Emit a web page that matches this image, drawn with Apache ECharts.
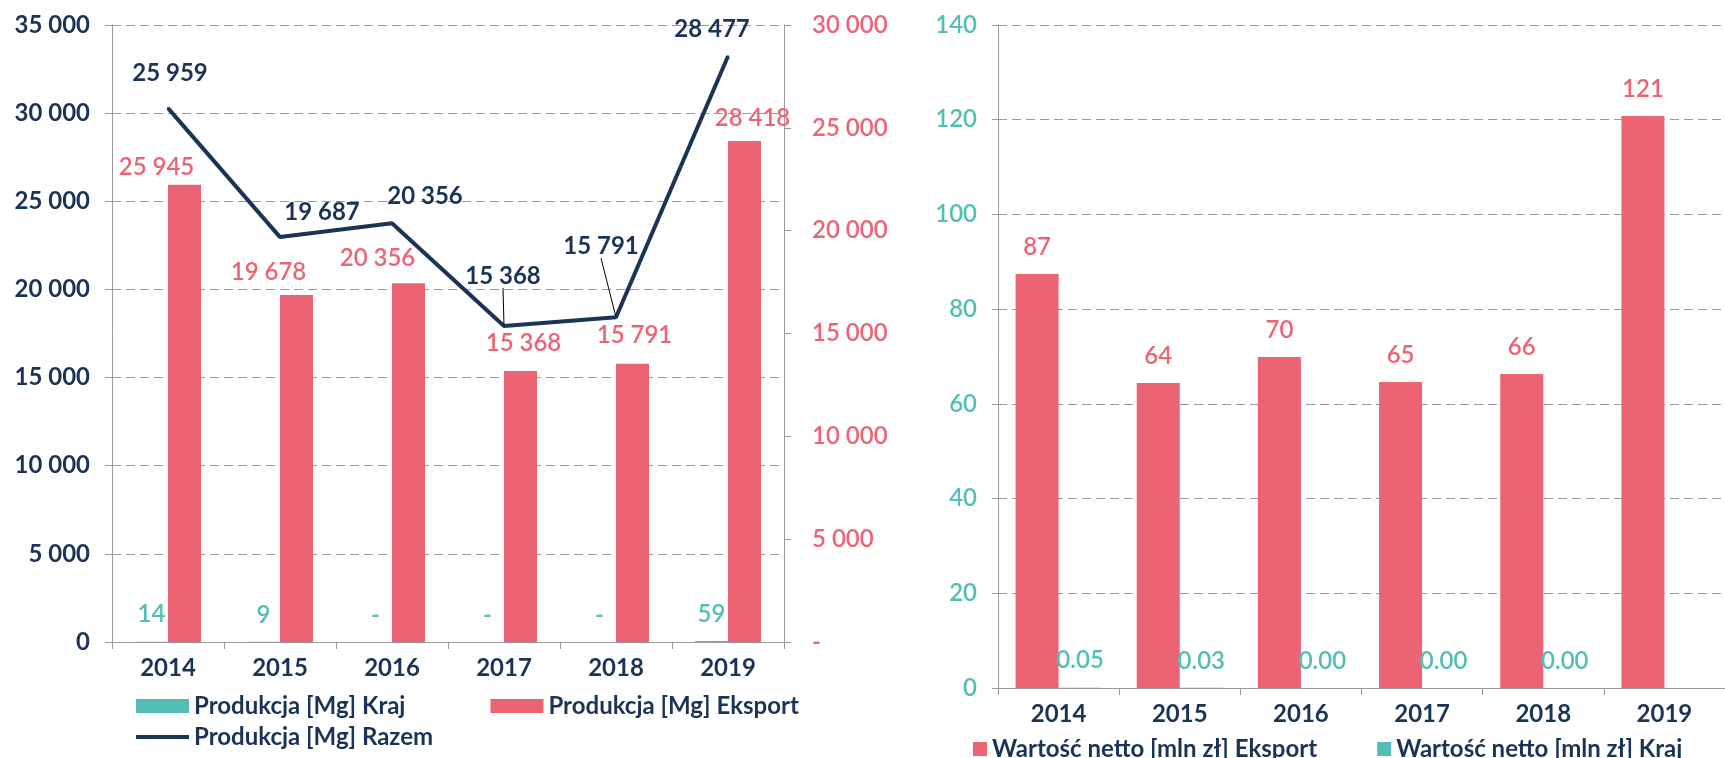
<!DOCTYPE html>
<html><head><meta charset="utf-8">
<script src="https://cdn.jsdelivr.net/npm/echarts@6/dist/echarts.min.js"></script>
<style>html,body{margin:0;padding:0;background:#fff}#c{width:1725px;height:758px}</style>
</head><body><div id="c"></div>
<script>
// ---- data ----
const years = ['2014', '2015', '2016', '2017', '2018', '2019'];
const prodKraj = [14, 9, 0, 0, 0, 59];
const prodEksport = [25945, 19678, 20356, 15368, 15791, 28418];
const prodRazem = [25959, 19687, 20356, 15368, 15791, 28477];
const wartEksport = [87.4, 64.4, 69.9, 64.6, 66.3, 120.8];
const wartKraj = [0.05, 0.03, 0.00, 0.00, 0.00, null];
const leftAxisScale = {min: 0, max: 35000, interval: 5000};
const rightAxisScale = {min: 0, max: 30000, interval: 5000};
const valueAxisScale = {min: 0, max: 140, interval: 20};
const seriesNames = {
  kraj: 'Produkcja [Mg] Kraj',
  eksport: 'Produkcja [Mg] Eksport',
  razem: 'Produkcja [Mg] Razem',
  wEksport: 'Wartość netto [mln zł] Eksport',
  wKraj: 'Wartość netto [mln zł] Kraj'
};

// ---- styles ----
const NAVY = '#1b3456', RED = '#ec6474', TEAL = '#52beb4', GRID = '#9a9a9a';
const FONT = 'Lato';
const FS = 24;
const MID = 600;
const eksportLabelShift = [[-28, 0], [-28, -6], [-31, -8], [3, -11], [2, -11], [8, -6]];
const razemLabelShift = [[2, -17], [42, -7], [33, -9], [-1, -32], [-15, -53], [-16, -9]];
const razemLeader = [false, false, false, true, true, false];

const fmt = v => String(Math.round(v)).replace(/\B(?=(\d{3})+(?!\d))/g, ' ');

const chart = echarts.init(document.getElementById('c'));
const dash = {color: GRID, type: [9, 5], width: 1};
const catAxis = (gi) => ({
  type: 'category', gridIndex: gi, data: years,
  axisLine: {show: true, lineStyle: {color: GRID, width: 1}},
  axisTick: {show: true, length: 7, lineStyle: {color: GRID}},
  axisLabel: {color: NAVY, fontFamily: FONT, fontWeight: 'bold', fontSize: FS, margin: 14}
});

chart.setOption({
  animation: false,
  textStyle: {fontFamily: FONT},
  grid: [
    {left: 112, right: 941, top: 25, bottom: 116},
    {left: 998, right: -11, top: 25, bottom: 70}
  ],
  legend: [
    {left: 136, top: 694, padding: 0, itemWidth: 53, itemHeight: 14, itemGap: 85, icon: 'rect',
     data: [seriesNames.kraj, seriesNames.eksport],
     textStyle: {color: NAVY, fontFamily: FONT, fontWeight: 'bold', fontSize: FS}},
    {left: 136, top: 725, padding: 0, itemWidth: 53, itemHeight: 4, icon: 'rect',
     data: [seriesNames.razem],
     textStyle: {color: NAVY, fontFamily: FONT, fontWeight: 'bold', fontSize: FS}},
    {left: 973, top: 737, padding: 0, itemWidth: 14, itemHeight: 14, itemGap: 60, icon: 'rect',
     data: [seriesNames.wEksport, seriesNames.wKraj],
     textStyle: {color: NAVY, fontFamily: FONT, fontWeight: 'bold', fontSize: FS}}
  ],
  xAxis: [catAxis(0), catAxis(1)],
  yAxis: [
    Object.assign({type: 'value', gridIndex: 0, position: 'left',
      axisLine: {show: true, lineStyle: {color: GRID}},
      axisTick: {show: true, length: 7, lineStyle: {color: GRID}},
      splitLine: {show: true, lineStyle: dash},
      axisLabel: {color: NAVY, fontFamily: FONT, fontWeight: 'bold', fontSize: FS, margin: 22, formatter: v => fmt(v)}
    }, leftAxisScale),
    Object.assign({type: 'value', gridIndex: 0, position: 'right',
      axisLine: {show: true, lineStyle: {color: GRID}},
      axisTick: {show: true, length: 7, lineStyle: {color: GRID}},
      splitLine: {show: false},
      axisLabel: {color: RED, fontFamily: FONT, fontWeight: MID, fontSize: FS, margin: 28, formatter: v => v === 0 ? '-' : fmt(v)}
    }, rightAxisScale),
    Object.assign({type: 'value', gridIndex: 1, position: 'left',
      axisLine: {show: true, lineStyle: {color: GRID}},
      axisTick: {show: true, length: 6, lineStyle: {color: GRID}},
      splitLine: {show: true, lineStyle: dash},
      axisLabel: {color: TEAL, fontFamily: FONT, fontWeight: MID, fontSize: FS, margin: 21}
    }, valueAxisScale)
  ],
  series: [
    {name: seriesNames.kraj, type: 'bar', xAxisIndex: 0, yAxisIndex: 0, barWidth: 33, barGap: '0%',
     itemStyle: {color: TEAL}, data: prodKraj,
     label: {show: true, position: 'top', distance: 15, color: TEAL, fontFamily: FONT, fontWeight: MID, fontSize: FS,
       formatter: p => p.value === 0 ? '-' : fmt(p.value)}},
    {name: seriesNames.eksport, type: 'bar', xAxisIndex: 0, yAxisIndex: 0, barWidth: 33, barGap: '0%',
     itemStyle: {color: RED},
     data: prodEksport.map((v, i) => ({value: v, label: {offset: eksportLabelShift[i]}})),
     label: {show: true, position: 'top', distance: 5, color: RED, fontFamily: FONT, fontWeight: MID, fontSize: FS,
       formatter: p => fmt(p.value)}},
    {name: seriesNames.razem, type: 'line', xAxisIndex: 0, yAxisIndex: 1,
     symbol: 'circle', symbolSize: 2, showSymbol: true,
     itemStyle: {color: NAVY}, lineStyle: {color: NAVY, width: 4},
     data: prodRazem.map((v, i) => ({value: v, labelLine: {show: razemLeader[i]}})),
     label: {show: true, position: 'top', distance: 5, color: NAVY, fontFamily: FONT, fontWeight: 'bold', fontSize: FS,
       formatter: p => fmt(p.value)},
     labelLine: {show: false, lineStyle: {color: '#000', width: 1}},
     labelLayout: p => ({dx: razemLabelShift[p.dataIndex][0], dy: razemLabelShift[p.dataIndex][1]})},
    {name: seriesNames.wEksport, type: 'bar', xAxisIndex: 1, yAxisIndex: 2, barWidth: 43, barGap: '0%',
     itemStyle: {color: RED}, data: wartEksport,
     label: {show: true, position: 'top', distance: 15, color: RED, fontFamily: FONT, fontWeight: MID, fontSize: FS,
       formatter: p => Math.round(p.value)}},
    {name: seriesNames.wKraj, type: 'bar', xAxisIndex: 1, yAxisIndex: 2, barWidth: 43, barGap: '0%',
     itemStyle: {color: TEAL}, data: wartKraj,
     label: {show: true, position: 'top', distance: 15, color: TEAL, fontFamily: FONT, fontWeight: MID, fontSize: FS,
       formatter: p => p.value == null ? '' : p.value.toFixed(2)}}
  ]
});
</script></body></html>
